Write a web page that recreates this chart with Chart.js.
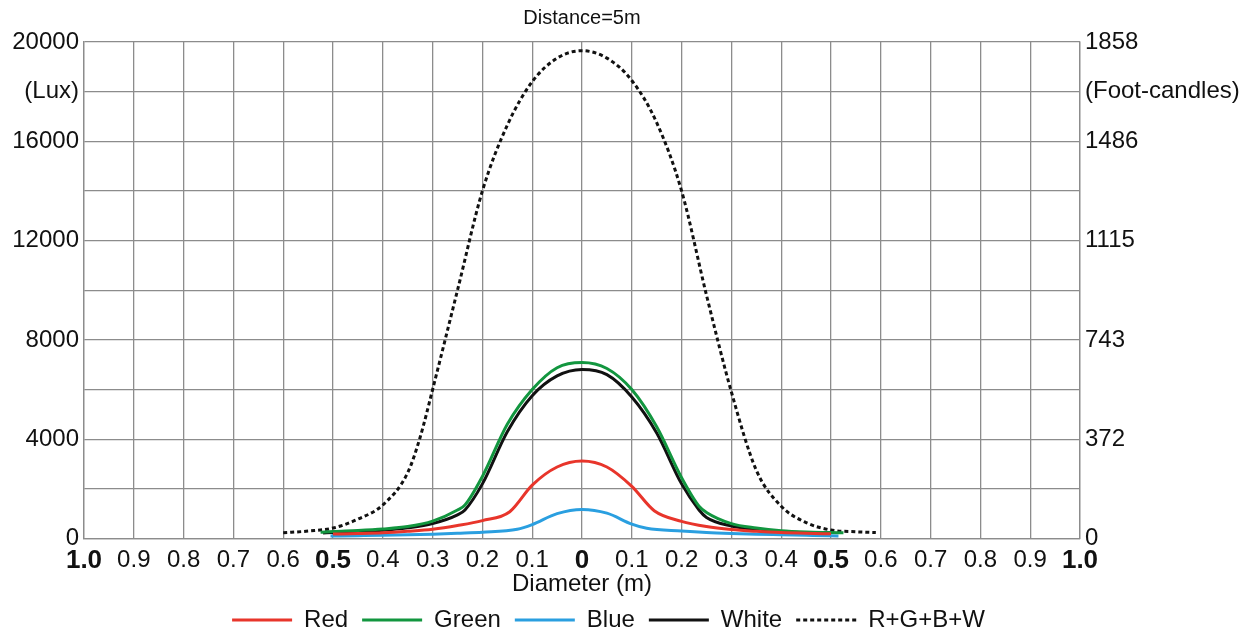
<!DOCTYPE html>
<html>
<head>
<meta charset="utf-8">
<script src="https://cdn.jsdelivr.net/npm/chart.js@4"></script>
<style>
  html, body { margin: 0; padding: 0; background: #ffffff; overflow: hidden; }
  #wrap { width: 1255px; height: 629px; position: relative; overflow: hidden; }
</style>
</head>
<body>
<div id="wrap"><canvas id="c" width="1255" height="642"></canvas></div>
<script>
// ---------- data ----------
const seriesNames = ['Red', 'Green', 'Blue', 'White', 'R+G+B+W'];

const redX   = [-0.5,-0.45,-0.4,-0.35,-0.3,-0.25,-0.2,-0.145,-0.1,-0.05,0,0.05,0.1,0.145,0.2,0.25,0.3,0.35,0.4,0.45,0.5];
const redY   = [180,200,230,290,370,520,720,1080,2150,2880,3120,2880,2100,1120,690,480,360,290,240,210,190];

const greenX = [-0.525,-0.5,-0.45,-0.4,-0.35,-0.3,-0.25,-0.235,-0.2,-0.15,-0.1,-0.05,0,0.05,0.1,0.15,0.2,0.235,0.25,0.3,0.35,0.4,0.45,0.5,0.525];
const greenY = [250,280,320,380,480,700,1150,1350,2500,4600,6000,6880,7090,6850,6000,4500,2450,1300,1050,600,420,310,260,240,230];

const blueX  = [-0.505,-0.45,-0.4,-0.35,-0.3,-0.25,-0.2,-0.13,-0.1,-0.05,0,0.05,0.1,0.13,0.2,0.25,0.3,0.35,0.4,0.45,0.5,0.515];
const blueY  = [100,115,130,150,175,210,250,370,560,1000,1170,1020,580,410,300,240,200,170,150,130,110,105];

const whiteX = [-0.52,-0.5,-0.45,-0.4,-0.35,-0.3,-0.25,-0.235,-0.2,-0.15,-0.1,-0.05,0,0.05,0.1,0.15,0.2,0.235,0.25,0.3,0.35,0.4,0.45,0.5];
const whiteY = [220,240,280,330,430,600,950,1150,2200,4300,5750,6550,6810,6600,5700,4250,2200,1150,850,500,360,280,230,210];

const totalX = [-0.6,-0.55,-0.5,-0.45,-0.4,-0.35,-0.325,-0.3,-0.25,-0.2,-0.15,-0.1,-0.05,0,0.05,0.1,0.15,0.2,0.25,0.3,0.35,0.4,0.45,0.5,0.55,0.59];
const totalY = [230,300,420,780,1350,2650,4080,6000,10000,14000,16650,18400,19350,19650,19350,18450,16750,14000,9800,5900,2750,1300,640,340,270,240];

// tick labels
const xTickValues = [-1,-0.9,-0.8,-0.7,-0.6,-0.5,-0.4,-0.3,-0.2,-0.1,0,0.1,0.2,0.3,0.4,0.5,0.6,0.7,0.8,0.9,1];
const xTickLabels = ['1.0','0.9','0.8','0.7','0.6','0.5','0.4','0.3','0.2','0.1','0','0.1','0.2','0.3','0.4','0.5','0.6','0.7','0.8','0.9','1.0'];
const xBoldValues = [-1, -0.5, 0, 0.5, 1];

const yTickValues  = [0,2000,4000,6000,8000,10000,12000,14000,16000,18000,20000];
const luxLabels    = ['0','','4000','','8000','','12000','','16000','(Lux)','20000'];
const fcLabels     = ['0','','372','','743','','1115','','1486','(Foot-candles)','1858'];

const titleText = 'Distance=5m';
const xAxisTitle = 'Diameter (m)';

// ---------- chart ----------
const FONT = "'Liberation Sans', Arial, sans-serif";
const toPts = (xs, ys) => xs.map((x, i) => ({x: x, y: ys[i]}));
const gridColor = '#8c8c8c';

function ds(label, xs, ys, color, dash) {
  return {
    label: label,
    data: toPts(xs, ys),
    borderColor: color,
    backgroundColor: color,
    borderWidth: 3,
    borderDash: dash || [],
    pointRadius: 0,
    pointHoverRadius: 0,
    cubicInterpolationMode: 'monotone',
    fill: false
  };
}

const legendShift = {
  id: 'legendShift',
  afterLayout(chart) {
    if (chart.legend) { chart.legend.left -= 19; chart.legend.right -= 19; }
  }
};

new Chart(document.getElementById('c'), {
  type: 'line',
  data: {
    datasets: [
      ds(seriesNames[0], redX, redY, '#e8352b'),
      ds(seriesNames[1], greenX, greenY, '#12963f'),
      ds(seriesNames[2], blueX, blueY, '#2a9fe0'),
      ds(seriesNames[3], whiteX, whiteY, '#111111'),
      ds(seriesNames[4], totalX, totalY, '#111111', [4, 3])
    ]
  },
  plugins: [legendShift],
  options: {
    responsive: false,
    animation: false,
    layout: { padding: 0 },
    plugins: {
      title: {
        display: true,
        fullSize: false,
        text: titleText,
        color: '#111',
        font: { family: FONT, size: 20, weight: 'normal' },
        padding: { top: 6, bottom: 12 }
      },
      legend: {
        display: true,
        position: 'bottom',
        labels: {
          usePointStyle: true,
          pointStyle: 'line',
          pointStyleWidth: 60,
          boxHeight: 24,
          padding: 14,
          color: '#111',
          font: { family: FONT, size: 24 },
          generateLabels: (chart) => {
            const items = Chart.defaults.plugins.legend.labels.generateLabels(chart);
            return items.map((item) => {
              const d = chart.data.datasets[item.datasetIndex];
              item.lineDash = d.borderDash;
              item.lineWidth = 3;
              item.strokeStyle = d.borderColor;
              item.fillStyle = d.borderColor;
              return item;
            });
          }
        }
      },
      tooltip: { enabled: false }
    },
    scales: {
      x: {
        type: 'linear',
        min: -1,
        max: 1,
        afterBuildTicks: (s) => { s.ticks = xTickValues.map(v => ({value: v})); },
        afterFit: (s) => { s.height = 55.5; },
        grid: { color: gridColor, lineWidth: 1.3, drawTicks: false },
        border: { color: gridColor, width: 1.3 },
        ticks: {
          autoSkip: false,
          maxRotation: 0,
          padding: 7,
          color: '#111',
          font: (ctx) => {
            const v = ctx.tick ? ctx.tick.value : null;
            const bold = v !== null && xBoldValues.some(b => Math.abs(b - v) < 1e-9);
            return bold ? { family: FONT, size: 26, weight: 'bold' } : { family: FONT, size: 24 };
          },
          callback: (v) => {
            const i = xTickValues.findIndex(t => Math.abs(t - v) < 1e-9);
            return i >= 0 ? xTickLabels[i] : '';
          }
        },
        title: {
          display: true,
          text: xAxisTitle,
          color: '#111',
          font: { family: FONT, size: 24 },
          padding: { top: 0, bottom: -5 }
        }
      },
      y: {
        position: 'left',
        min: 0,
        max: 20000,
        afterBuildTicks: (s) => { s.ticks = yTickValues.map(v => ({value: v})); },
        afterFit: (s) => { s.width = 84; },
        grid: { color: gridColor, lineWidth: 1.3, drawTicks: false },
        border: { color: gridColor, width: 1.3 },
        ticks: {
          autoSkip: false,
          padding: 5,
          color: '#111',
          font: { family: FONT, size: 24 },
          callback: (v) => {
            const i = yTickValues.indexOf(v);
            return i >= 0 ? luxLabels[i] : '';
          }
        }
      },
      y2: {
        position: 'right',
        min: 0,
        max: 20000,
        afterBuildTicks: (s) => { s.ticks = yTickValues.map(v => ({value: v})); },
        afterFit: (s) => { s.width = 175; },
        grid: { display: false, drawTicks: false },
        border: { color: gridColor, width: 1.3 },
        ticks: {
          autoSkip: false,
          padding: 5,
          color: '#111',
          font: { family: FONT, size: 24 },
          callback: (v) => {
            const i = yTickValues.indexOf(v);
            return i >= 0 ? fcLabels[i] : '';
          }
        }
      }
    }
  }
});
</script>
</body>
</html>
